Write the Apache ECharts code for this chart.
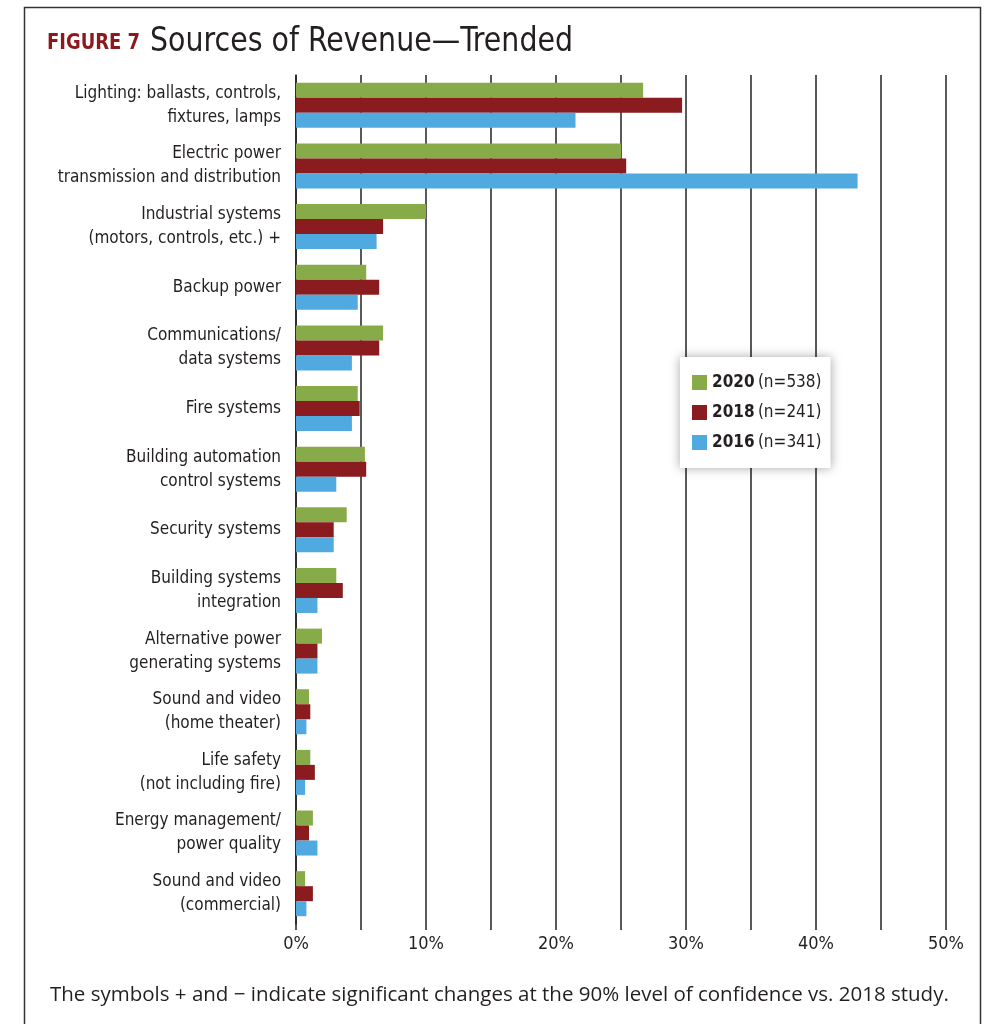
<!DOCTYPE html>
<html>
<head>
<meta charset="utf-8">
<script src="https://cdn.jsdelivr.net/npm/echarts@6/dist/echarts.min.js"></script>
<style>
html,body{margin:0;padding:0;background:#fff;}
#chart{width:985px;height:1024px;}
</style>
</head>
<body>
<div id="chart"></div>
<script>
const categories = [
  'Lighting: ballasts, controls,\nfixtures, lamps',
  'Electric power\ntransmission and distribution',
  'Industrial systems\n(motors, controls, etc.) +',
  'Backup power',
  'Communications/\ndata systems',
  'Fire systems',
  'Building automation\ncontrol systems',
  'Security systems',
  'Building systems\nintegration',
  'Alternative power\ngenerating systems',
  'Sound and video\n(home theater)',
  'Life safety\n(not including fire)',
  'Energy management/\npower quality',
  'Sound and video\n(commercial)'
];
const values2020 = [26.7, 25.0, 10.0, 5.4, 6.7, 4.75, 5.3, 3.9, 3.1, 2.0, 1.0, 1.1, 1.3, 0.7];
const values2018 = [29.7, 25.4, 6.7, 6.4, 6.4, 4.9, 5.4, 2.9, 3.6, 1.65, 1.1, 1.45, 1.0, 1.3];
const values2016 = [21.5, 43.2, 6.2, 4.75, 4.3, 4.3, 3.1, 2.9, 1.65, 1.65, 0.8, 0.7, 1.65, 0.8];
const seriesNames = ['2020', '2018', '2016'];
const sampleSizes = ['n=538', 'n=241', 'n=341'];
const xTicks = [0, 10, 20, 30, 40, 50];

const colors = ['#86AB48', '#8A1B1E', '#50AADF'];
const narrow = '"Liberation Sans Narrow","DejaVu Sans Condensed","Roboto",sans-serif';
const ink = '#231f20';

const chart = echarts.init(document.getElementById('chart'), null, {renderer: 'canvas'});
const seriesData = [values2020, values2018, values2016];

chart.setOption({
  animation: false,
  backgroundColor: '#fff',
  grid: {left: 296, right: 39, top: 75, bottom: 100, containLabel: false},
  legend: {
    orient: 'vertical',
    left: 680, top: 357,
    backgroundColor: '#fff',
    shadowColor: 'rgba(0,0,0,0.35)', shadowBlur: 10, shadowOffsetX: 0, shadowOffsetY: 0,
    padding: [17, 9, 17, 12],
    itemWidth: 15, itemHeight: 15, itemGap: 13,
    icon: 'rect',
    data: seriesNames,
    formatter: function (name) {
      return '{b|' + name + '} {n|(' + sampleSizes[seriesNames.indexOf(name)] + ')}';
    },
    textStyle: {
      rich: {
        b: {fontFamily: narrow, fontWeight: 'bold', fontSize: 17, color: ink, lineHeight: 18},
        n: {fontFamily: narrow, fontSize: 17, color: ink, lineHeight: 18}
      }
    }
  },
  xAxis: {
    type: 'value', min: 0, max: 50, interval: 5,
    axisLine: {show: false},
    axisTick: {show: true, length: 6, lineStyle: {color: '#222', width: 1.5}},
    splitLine: {show: true, lineStyle: {color: '#222', width: 1.5}},
    axisLabel: {
      margin: 11, fontFamily: narrow, fontSize: 18, color: ink,
      formatter: function (v) { return xTicks.indexOf(v) >= 0 ? v + '%' : ''; }
    }
  },
  yAxis: {
    type: 'category', data: categories, inverse: true,
    axisLine: {show: true, lineStyle: {color: '#222', width: 1.5}},
    axisTick: {show: false},
    axisLabel: {margin: 15, fontFamily: narrow, fontSize: 17, lineHeight: 24, color: ink, align: 'right'}
  },
  series: seriesNames.map((n, i) => ({
    name: n, type: 'bar', data: seriesData[i],
    barWidth: 15, barGap: '0%',
    itemStyle: {color: colors[i]}
  })),
  graphic: [
    {type: 'rect', left: 22, top: 5, shape: {x: 0, y: 0, width: 956, height: 1030},
      style: {fill: 'none', stroke: '#333', lineWidth: 1.5}, silent: true},
    {type: 'text', x: 47, y: 33, scaleX: 0.95,
      style: {text: 'FIGURE 7', fontFamily: narrow, fontWeight: 'bold', fontSize: 21, fill: '#8B1A1E'}},
    {type: 'text', x: 150, y: 25, scaleX: 0.93,
      style: {text: 'Sources of Revenue\u2014Trended', fontFamily: narrow, fontSize: 34, fill: ink}},
    {type: 'text', left: 50, top: 985,
      style: {text: 'The symbols + and \u2212 indicate significant changes at the 90% level of confidence vs. 2018 study.',
        fontFamily: '"Open Sans",sans-serif', fontSize: 20.5, fill: ink}}
  ]
});
</script>
</body>
</html>
